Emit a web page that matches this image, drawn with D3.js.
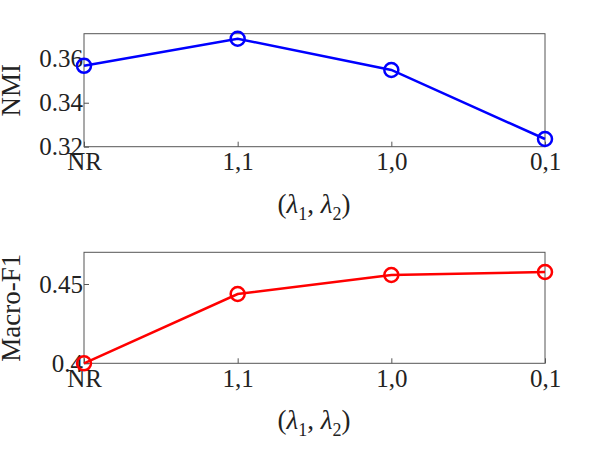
<!DOCTYPE html>
<html><head><meta charset="utf-8">
<script src="https://cdn.jsdelivr.net/npm/d3@7"></script>
<style>body{margin:0;background:#fff}text{font-family:"Liberation Serif",serif;fill:#222}</style>
</head><body>
<svg id="chart" width="598" height="459"></svg>
<script>
var categories = ["NR","1,1","1,0","0,1"];
var nmi = [0.3568, 0.3691, 0.3549, 0.3235];
var macroF1 = [0.4000, 0.4437, 0.4557, 0.4576];
var nmiTicks = [0.32, 0.34, 0.36];
var f1Ticks = [0.4, 0.45];

var svg = d3.select("#chart");
var x = d3.scalePoint().domain(categories).range([84, 545]);

var panel = function(vals, domain, ticks, fmt, top, bottom, color, label){
  var y = d3.scaleLinear().domain(domain).range([bottom, top]);
  var g = svg.append("g");
  g.append("rect").attr("x",84).attr("y",top).attr("width",461).attr("height",bottom-top)
    .attr("fill","none").attr("stroke","#555").attr("stroke-width",1);
  var xa = g.append("g").attr("transform","translate(0,"+bottom+")")
    .call(d3.axisBottom(x).tickSize(-5).tickPadding(6));
  var ya = g.append("g").attr("transform","translate(84,0)")
    .call(d3.axisLeft(y).tickValues(ticks).tickFormat(fmt).tickSize(-5).tickPadding(1));
  [xa, ya].forEach(function(a){
    a.select(".domain").remove();
    a.selectAll("line").attr("stroke","#555");
    a.selectAll("text").style("font-size","25px").attr("fill","#222");
  });
  g.append("path").datum(vals)
    .attr("d", d3.line().x(function(d,i){return x(categories[i]);}).y(function(d){return y(d);}))
    .attr("fill","none").attr("stroke",color).attr("stroke-width",2.5);
  g.selectAll("circle").data(vals).enter().append("circle")
    .attr("cx",function(d,i){return x(categories[i]);}).attr("cy",function(d){return y(d);})
    .attr("r",7).attr("fill","none").attr("stroke",color).attr("stroke-width",2.5);
  g.append("text").attr("transform","translate(20,"+((top+bottom)/2)+") rotate(-90)")
    .attr("text-anchor","middle").style("font-size","27px").text(label);
  var t = g.append("text").attr("x",314).attr("y",bottom+66).attr("text-anchor","middle").style("font-size","27px");
  t.append("tspan").text("(");
  t.append("tspan").style("font-style","italic").text("λ");
  t.append("tspan").attr("dy",7).style("font-size","18px").text("1");
  t.append("tspan").attr("dy",-7).text(", ");
  t.append("tspan").style("font-style","italic").text("λ");
  t.append("tspan").attr("dy",7).style("font-size","18px").text("2");
  t.append("tspan").attr("dy",-7).text(")");
};

panel(nmi, [0.32, 0.3714], nmiTicks, d3.format(".2f"), 33.7, 146.7, "#0000ff", "NMI");
panel(macroF1, [0.4, 0.47], f1Ticks, function(d){return d===0.4?"0.4":d3.format(".2f")(d);}, 252.3, 363.3, "#ff0000", "Macro-F1");
</script>
</body></html>
